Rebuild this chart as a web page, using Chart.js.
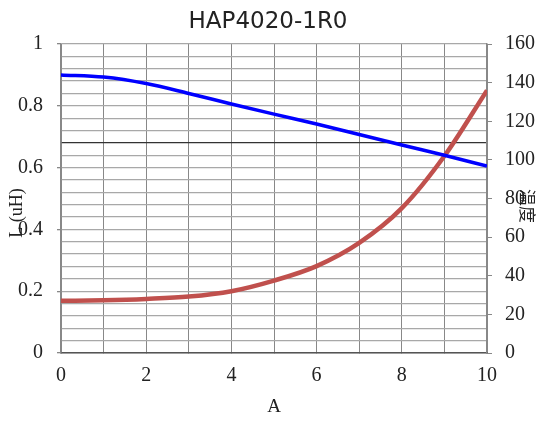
<!DOCTYPE html>
<html>
<head>
<meta charset="utf-8">
<script src="https://cdn.jsdelivr.net/npm/chart.js@4"></script>
<style>
  html, body { margin: 0; padding: 0; background: #fff; }
  #wrap { width: 541px; height: 422px; }
</style>
</head>
<body>
<div id="wrap"><canvas id="hap-chart"></canvas></div>
<script>
// current in A
const currents = [0, 1, 2, 3, 4, 5, 6, 7, 8, 9, 10]
// inductance L (uH), left axis
const inductance = [0.90, 0.893, 0.872, 0.840, 0.806, 0.773, 0.741, 0.707, 0.673, 0.640, 0.605]
// temperature, right axis
const temperature = [27, 27.3, 28, 29.2, 32, 37.5, 45, 57, 75, 102, 136]

const xTicks = [0, 2, 4, 6, 8, 10]
const leftTicks = [0, 0.2, 0.4, 0.6, 0.8, 1]
const rightTicks = [0, 20, 40, 60, 80, 100, 120, 140, 160]

const serif = 'Liberation Serif'

// titles are placed by hand so they overlap the tick labels like the original
const titlesPlugin = {
  id: 'titles',
  afterDraw(chart) {
    const ctx = chart.ctx
    const a = chart.chartArea
    ctx.save()
    ctx.fillStyle = '#222'
    ctx.textAlign = 'center'
    ctx.textBaseline = 'middle'
    ctx.font = '23px "DejaVu Sans"'
    ctx.fillText('HAP4020-1R0', 268, 22)

    ctx.font = '19px "' + serif + '"'
    ctx.fillText('A', (a.left + a.right) / 2, 407)

    ctx.save()
    ctx.translate(17, 213)
    ctx.rotate(-Math.PI / 2)
    ctx.font = '18px "' + serif + '"'
    ctx.fillText('L (uH)', 0, 0)
    ctx.restore()

    ctx.save()
    ctx.translate(527, 206)
    ctx.rotate(Math.PI / 2)
    ctx.font = '17px "Noto Sans CJK SC"'
    ctx.fillText('温度', 0, 0)
    ctx.restore()
    ctx.restore()
  }
}

const isMajor = (v, step) => Math.abs(v / step - Math.round(v / step)) < 1e-6

new Chart(document.querySelector('#hap-chart'), {
  type: 'line',
  data: {
    datasets: [
      {
        label: 'L',
        data: currents.map((c, i) => ({ x: c, y: inductance[i] })),
        yAxisID: 'y',
        borderColor: '#0000ff',
        borderWidth: 3.5,
        pointRadius: 0,
        cubicInterpolationMode: 'monotone'
      },
      {
        label: 'T',
        data: currents.map((c, i) => ({ x: c, y: temperature[i] })),
        yAxisID: 'y2',
        borderColor: '#c0504d',
        borderWidth: 4.5,
        pointRadius: 0,
        cubicInterpolationMode: 'monotone'
      }
    ]
  },
  options: {
    responsive: true,
    maintainAspectRatio: false,
    animation: false,
    layout: { padding: { top: 44, left: 0, right: 0, bottom: 0 } },
    plugins: {
      legend: { display: false },
      title: { display: false },
      tooltip: { enabled: false }
    },
    scales: {
      x: {
        type: 'linear',
        min: 0,
        max: 10,
        afterFit: s => { s.height = 69 },
        afterBuildTicks: s => { s.ticks = currents.map(v => ({ value: v })) },
        border: { color: '#555', width: 1.5 },
        grid: { color: '#888', tickLength: 0 },
        ticks: {
          padding: 11,
          color: '#222',
          font: { family: serif, size: 20 },
          maxRotation: 0,
          callback: v => (xTicks.includes(v) ? String(v) : '')
        }
      },
      y: {
        position: 'left',
        min: 0,
        max: 1,
        afterFit: s => { s.width = 61 },
        afterBuildTicks: s => {
          const t = []
          for (let i = 0; i <= 25; i++) t.push({ value: +(i * 0.04).toFixed(2) })
          s.ticks = t
        },
        border: { color: '#888', width: 1.5 },
        grid: {
          color: c => (Math.abs(c.tick.value - 0.68) < 1e-6 ? '#333' : '#a8a8a8'),
          lineWidth: 1.3,
          tickLength: 4,
          tickColor: c => (leftTicks.some(v => Math.abs(v - c.tick.value) < 1e-6) ? '#888' : 'rgba(0,0,0,0)')
        },
        ticks: {
          padding: 14,
          color: '#222',
          font: { family: serif, size: 20 },
          autoSkip: false,
          callback: v => (isMajor(v, 0.2) ? String(+v.toFixed(1)) : '')
        }
      },
      y2: {
        position: 'right',
        min: 0,
        max: 160,
        afterFit: s => { s.width = 54 },
        afterBuildTicks: s => { s.ticks = rightTicks.map(v => ({ value: v })) },
        border: { color: '#888', width: 1.5 },
        grid: { drawOnChartArea: false, tickLength: 5, color: '#888' },
        ticks: {
          padding: 13,
          color: '#222',
          font: { family: serif, size: 20 },
          autoSkip: false
        }
      }
    }
  },
  plugins: [titlesPlugin]
})
</script>
</body>
</html>
